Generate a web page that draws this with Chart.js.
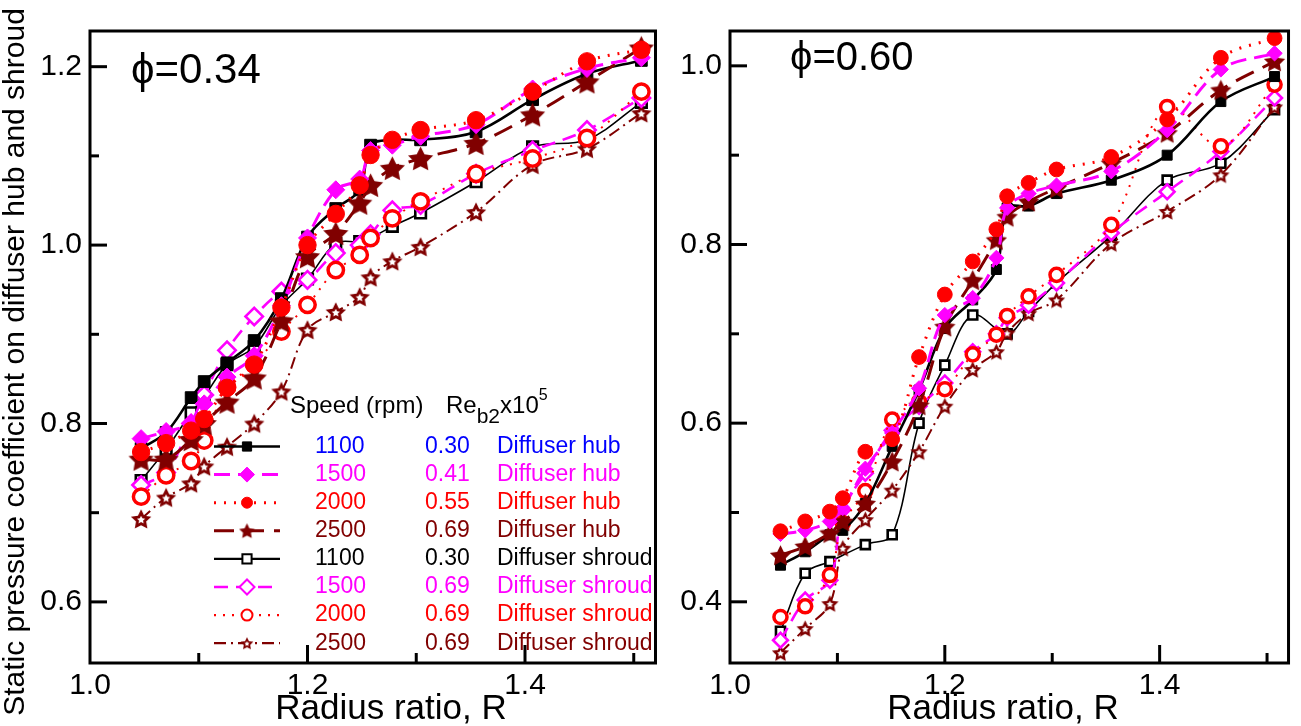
<!DOCTYPE html>
<html><head><meta charset="utf-8">
<script src="https://cdn.jsdelivr.net/npm/chart.js@4.4.1/dist/chart.umd.min.js"></script>
<style>
html,body{margin:0;padding:0;background:#fff;}
#wrap{position:relative;width:1301px;height:726px;overflow:hidden;background:#fff;}
#c1{position:absolute;left:0;top:0;}
#c2{position:absolute;left:670px;top:0;}
</style></head><body>
<div id="wrap"><canvas id="c1" width="670" height="726"></canvas><canvas id="c2" width="631" height="726"></canvas></div>
<script>
// ---------- DATA ----------
const radiusRatio = [1.047, 1.070, 1.093, 1.105, 1.126, 1.151, 1.176, 1.200, 1.226, 1.248, 1.258, 1.278, 1.304, 1.355, 1.407, 1.457, 1.507];

// phi = 0.34
const hub1100_p34 = [0.772, 0.790, 0.829, 0.847, 0.868, 0.893, 0.940, 1.009, 1.041, 1.062, 1.112, 1.118, 1.118, 1.127, 1.163, 1.192, 1.207];
const hub1500_p34 = [0.783, 0.791, 0.800, 0.822, 0.852, 0.876, 0.932, 1.008, 1.062, 1.074, 1.106, 1.112, 1.122, 1.135, 1.175, 1.198, 1.210];
const hub2000_p34 = [0.768, 0.778, 0.792, 0.805, 0.840, 0.866, 0.930, 1.000, 1.035, 1.067, 1.101, 1.118, 1.129, 1.140, 1.172, 1.206, 1.219];
const hub2500_p34 = [0.760, 0.760, 0.782, 0.800, 0.824, 0.851, 0.915, 0.987, 1.013, 1.047, 1.067, 1.086, 1.097, 1.114, 1.146, 1.183, 1.221];
const shr1100_p34 = [0.736, 0.771, 0.812, 0.830, 0.866, 0.886, 0.932, 0.962, 1.002, 1.004, 1.008, 1.021, 1.036, 1.071, 1.110, 1.118, 1.160];
const shr1500_p34 = [0.731, 0.745, 0.800, 0.832, 0.882, 0.920, 0.948, 0.961, 0.991, 1.000, 1.012, 1.039, 1.045, 1.080, 1.106, 1.129, 1.165];
const shr2000_p34 = [0.718, 0.742, 0.758, 0.781, 0.841, 0.866, 0.903, 0.933, 0.972, 0.989, 1.008, 1.030, 1.049, 1.080, 1.097, 1.120, 1.172];
const shr2500_p34 = [0.693, 0.717, 0.733, 0.752, 0.774, 0.800, 0.836, 0.905, 0.925, 0.942, 0.964, 0.982, 0.998, 1.037, 1.090, 1.108, 1.148];

// phi = 0.60
const hub1100_p60 = [0.441, 0.456, 0.475, 0.480, 0.510, 0.574, 0.637, 0.706, 0.738, 0.772, 0.841, 0.843, 0.857, 0.872, 0.900, 0.960, 0.988];
const hub1500_p60 = [0.476, 0.480, 0.490, 0.505, 0.549, 0.589, 0.639, 0.721, 0.740, 0.785, 0.841, 0.857, 0.866, 0.882, 0.928, 0.996, 1.014];
const hub2000_p60 = [0.479, 0.490, 0.501, 0.516, 0.568, 0.582, 0.674, 0.744, 0.781, 0.817, 0.854, 0.869, 0.884, 0.898, 0.940, 1.009, 1.031];
const hub2500_p60 = [0.452, 0.462, 0.477, 0.490, 0.510, 0.557, 0.620, 0.708, 0.760, 0.805, 0.831, 0.848, 0.863, 0.891, 0.925, 0.973, 1.005];
const shr1100_p60 = [0.367, 0.432, 0.445, null, 0.464, 0.475, 0.600, 0.665, 0.721, null, 0.700, 0.725, 0.757, 0.810, 0.872, 0.891, 0.951];
const shr1500_p60 = [0.357, 0.402, 0.424, 0.503, 0.544, 0.592, 0.619, 0.645, 0.680, 0.700, 0.718, 0.732, 0.757, 0.813, 0.859, 0.904, 0.964];
const shr2000_p60 = [0.383, 0.395, 0.430, 0.488, 0.524, 0.604, 0.624, 0.638, 0.677, 0.699, 0.720, 0.742, 0.766, 0.822, 0.954, 0.910, 0.979];
const shr2500_p60 = [0.343, 0.370, 0.398, 0.460, 0.492, 0.525, 0.568, 0.619, 0.660, 0.680, 0.701, 0.723, 0.738, 0.801, 0.837, 0.878, 0.954];

// legend table
const legendSpeeds = ['1100', '1500', '2000', '2500', '1100', '1500', '2000', '2500'];
const legendReynolds = ['0.30', '0.41', '0.55', '0.69', '0.30', '0.69', '0.69', '0.69'];
const legendLocations = ['Diffuser hub', 'Diffuser hub', 'Diffuser hub', 'Diffuser hub',
  'Diffuser shroud', 'Diffuser shroud', 'Diffuser shroud', 'Diffuser shroud'];
const panelTitles = ['\u03D5=0.34', '\u03D5=0.60'];
const xTitle = 'Radius ratio, R';
const yTitle = 'Static pressure coefficient on diffuser hub and shroud';

// ---------- STYLES ----------
const MAG = '#ff00ff', RED = '#ff0000', DRED = '#800000', BLK = '#000000';
const FONT = '"Liberation Sans", Arial, Helvetica, sans-serif';
const legendTextColors = ['#0000ff', MAG, RED, DRED, BLK, MAG, RED, DRED];

function starCanvas(size, color, open) {
  const c = document.createElement('canvas');
  c.width = c.height = Math.ceil(size);
  const g = c.getContext('2d');
  const cx = c.width / 2, cy = c.height / 2;
  const ro = size / 2 - 0.3;
  const shift = ro * 0.09;
  const path = (r1, r2) => {
    g.beginPath();
    for (let i = 0; i < 10; i++) {
      const r = i % 2 ? r2 : r1;
      const a = -Math.PI / 2 + i * Math.PI / 5;
      const px = cx + r * Math.cos(a), py = cy + shift + r * Math.sin(a);
      if (i) g.lineTo(px, py); else g.moveTo(px, py);
    }
    g.closePath();
  };
  path(ro, ro * 0.5);
  g.fillStyle = color; g.fill();
  if (open) { path(ro * 0.4, ro * 0.4 * 0.5); g.fillStyle = '#fff'; g.fill(); }
  return c;
}

// per-series styles (index order = legend order)
const seriesStyles = [
  {shape: 'rect', filled: true, color: BLK, lw: 2.6, dash: [], r: 8.3, order: 3},
  {shape: 'rectRot', filled: true, color: MAG, lw: 3, dash: [16, 8], r: 9, order: 1},
  {shape: 'circle', filled: true, color: RED, lw: 3, dash: [2, 8], r: 8.7, order: 0},
  {shape: 'star', filled: true, color: DRED, lw: 3, dash: [20, 10], r: 27, order: 2},
  {shape: 'rect', filled: false, color: BLK, lw: 1.6, dash: [], r: 7.5, order: 7},
  {shape: 'rectRot', filled: false, color: MAG, lw: 2.6, dash: [14, 8], r: 8.7, order: 5},
  {shape: 'circle', filled: false, color: RED, lw: 2, dash: [2, 7], r: 7.7, order: 4},
  {shape: 'star', filled: false, color: DRED, lw: 2, dash: [12, 5, 2, 5], r: 22, order: 6}
];

function buildDatasets(valueSets, scale) {
  return valueSets.map((vals, i) => {
    const st = seriesStyles[i];
    const pts = [];
    radiusRatio.forEach((r, k) => { if (vals[k] !== null) pts.push({x: r, y: vals[k]}); });
    let pointStyle = st.shape, radius = st.r * scale;
    if (st.shape === 'star') { pointStyle = starCanvas(st.r * scale, st.color, !st.filled); radius = st.r * scale / 2; }
    return {
      label: legendSpeeds[i] + ' ' + legendLocations[i],
      data: pts,
      order: st.order,
      borderColor: st.color,
      borderWidth: st.lw,
      borderDash: st.dash,
      tension: 0.35,
      fill: false,
      spanGaps: true,
      pointStyle: pointStyle,
      pointRadius: radius,
      pointHoverRadius: radius,
      pointBackgroundColor: st.filled ? st.color : '#ffffff',
      pointBorderColor: st.color,
      pointBorderWidth: st.filled ? 1 : (st.shape === 'circle' ? 3.5 : 2.6)
    };
  });
}

const framePlugin = {
  id: 'frame',
  afterDatasetsDraw(chart) {
    const {ctx, chartArea: a, scales: {x, y}} = chart;
    ctx.save();
    ctx.strokeStyle = '#000';
    ctx.lineWidth = 3;
    ctx.setLineDash([]);
    y.ticks.forEach(t => {
      const py = y.getPixelForValue(t.value);
      const major = Math.round(t.value * 10) % 2 === 0;
      ctx.beginPath(); ctx.moveTo(a.left, py); ctx.lineTo(a.left + (major ? 17 : 9), py); ctx.stroke();
    });
    x.ticks.forEach(t => {
      if (Math.abs(t.value - 1) < 1e-6) return;
      const px = x.getPixelForValue(t.value);
      const major = Math.round(t.value * 10) % 2 === 0;
      ctx.beginPath(); ctx.moveTo(px, a.bottom); ctx.lineTo(px, a.bottom - (major ? 18 : 10)); ctx.stroke();
    });
    ctx.strokeRect(a.left, a.top, a.right - a.left, a.bottom - a.top);
    ctx.restore();
  }
};

function textPlugin(opts) {
  return {
    id: 'texts' + opts.idx,
    afterDraw(chart) {
      const ctx = chart.ctx;
      ctx.save();
      ctx.fillStyle = '#000';
      ctx.font = opts.titleSize + 'px ' + FONT;
      ctx.textAlign = 'left'; ctx.textBaseline = 'alphabetic';
      ctx.fillText(panelTitles[opts.idx], opts.titleX, opts.titleY);
      ctx.font = '35px ' + FONT;
      ctx.textAlign = 'center';
      ctx.fillText(xTitle, opts.xTitleX, 719);
      if (opts.idx === 0) {
        ctx.save();
        ctx.translate(16, 362);
        ctx.rotate(-Math.PI / 2);
        ctx.font = '30px ' + FONT;
        ctx.textBaseline = 'middle';
        ctx.fillText(yTitle, 0, 0);
        ctx.restore();
      }
      ctx.restore();
    }
  };
}

const legendPlugin = {
  id: 'tableLegend',
  afterDraw(chart) {
    const ctx = chart.ctx;
    ctx.save();
    ctx.fillStyle = '#000';
    ctx.textBaseline = 'middle'; ctx.textAlign = 'left';
    ctx.font = '24px ' + FONT;
    ctx.fillText('Speed (rpm)', 290, 406);
    let hx = 446;
    ctx.fillText('Re', hx, 406); hx += ctx.measureText('Re').width;
    ctx.font = '21px ' + FONT;
    ctx.fillText('b2', hx, 417); hx += ctx.measureText('b2').width;
    ctx.font = '24px ' + FONT;
    ctx.fillText('x10', hx, 406); hx += ctx.measureText('x10').width;
    ctx.font = '16px ' + FONT;
    ctx.fillText('5', hx, 396);
    for (let i = 0; i < 8; i++) {
      const y = 446.5 + i * 28.1;
      const st = seriesStyles[i];
      ctx.save();
      ctx.strokeStyle = st.color; ctx.lineWidth = Math.max(st.lw, 2.2);
      ctx.setLineDash(st.dash);
      ctx.beginPath(); ctx.moveTo(214, y); ctx.lineTo(280, y); ctx.stroke();
      ctx.setLineDash([]);
      ctx.fillStyle = st.filled ? st.color : '#fff';
      ctx.strokeStyle = st.color;
      ctx.lineWidth = st.filled ? 1 : 2;
      let ps = st.shape, rad = {rect: 6.5, rectRot: 7.5, circle: 5.5}[st.shape];
      if (st.shape === 'star') { ps = starCanvas(st.filled ? 17 : 14, st.color, !st.filled); rad = 8; }
      Chart.helpers.drawPoint(ctx, {pointStyle: ps, radius: rad, rotation: 0, borderWidth: ctx.lineWidth}, 247, y);
      ctx.restore();
      ctx.fillStyle = legendTextColors[i];
      ctx.font = '23px ' + FONT;
      ctx.fillText(legendSpeeds[i], 315, y);
      ctx.fillText(legendReynolds[i], 425, y);
      ctx.fillText(legendLocations[i], 497, y);
    }
    ctx.restore();
  }
};

function makeChart(canvasId, valueSets, yMin, yMax, leftEdge, rightPad, plugins, mscale) {
  const tickFont = {family: FONT, size: 30};
  return new Chart(document.getElementById(canvasId), {
    type: 'line',
    data: {datasets: buildDatasets(valueSets, mscale)},
    options: {
      responsive: false,
      animation: false,
      events: [],
      layout: {padding: {left: 0, top: 31, right: rightPad, bottom: 0}},
      plugins: {legend: {display: false}, tooltip: {enabled: false}},
      scales: {
        x: {
          type: 'linear', min: 1.0, max: 1.52,
          grid: {display: false, drawTicks: false},
          border: {display: false},
          ticks: {
            stepSize: 0.1, includeBounds: false, autoSkip: false, maxRotation: 0,
            padding: 5, color: '#000', font: tickFont,
            callback: v => (Math.round(v * 10) % 2 === 0 ? v.toFixed(1) : '')
          },
          afterFit: s => { s.height = 63; }
        },
        y: {
          type: 'linear', min: yMin, max: yMax,
          grid: {display: false, drawTicks: false},
          border: {display: false},
          ticks: {
            stepSize: 0.1, includeBounds: false, autoSkip: false,
            padding: 8, color: '#000', font: tickFont,
            callback: v => (Math.round(v * 10) % 2 === 0 ? v.toFixed(1) : '')
          },
          afterFit: s => { s.width = leftEdge; }
        }
      }
    },
    plugins: plugins
  });
}

makeChart('c1',
  [hub1100_p34, hub1500_p34, hub2000_p34, hub2500_p34, shr1100_p34, shr1500_p34, shr2000_p34, shr2500_p34],
  0.5315, 1.24, 90, 13,
  [framePlugin, legendPlugin, textPlugin({idx: 0, titleSize: 42, titleX: 131, titleY: 83, xTitleX: 391})], 1.0);

makeChart('c2',
  [hub1100_p60, hub1500_p60, hub2000_p60, hub2500_p60, shr1100_p60, shr1500_p60, shr2000_p60, shr2500_p60],
  0.3315, 1.039, 60, 4,
  [framePlugin, textPlugin({idx: 1, titleSize: 40, titleX: 120, titleY: 70, xTitleX: 333})], 0.85);
</script>
</body></html>
